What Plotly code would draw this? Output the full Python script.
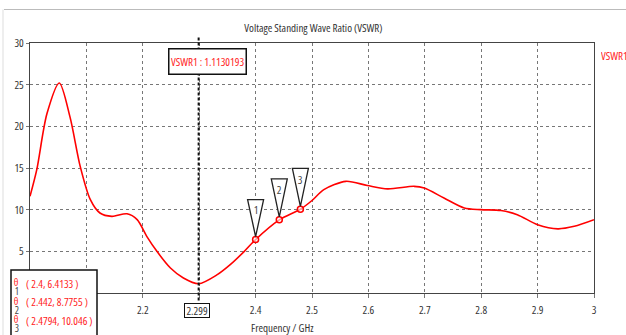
import plotly.graph_objects as go

# ---- data ----
freq = [2.000, 2.012, 2.030, 2.052, 2.071, 2.089, 2.107, 2.124, 2.145, 2.172,
        2.190, 2.207, 2.225, 2.249, 2.272, 2.299, 2.332, 2.355, 2.380, 2.400,
        2.442, 2.4794, 2.500, 2.521, 2.560, 2.598, 2.634, 2.681, 2.699, 2.734,
        2.770, 2.799, 2.835, 2.864, 2.900, 2.936, 2.965, 3.000]
vswr = [11.6, 14.8, 21.5, 25.2, 21.1, 15.2, 11.2, 9.6, 9.2, 9.5,
        8.8, 6.8, 5.0, 3.0, 1.8, 1.113, 2.2, 3.4, 5.0, 6.4133,
        8.7755, 10.046, 11.1, 12.4, 13.4, 12.9, 12.5, 12.8, 12.6, 11.4,
        10.2, 10.0, 9.9, 9.4, 8.2, 7.7, 8.0, 8.8]

marker_f = [2.4, 2.442, 2.4794]
marker_v = [6.4133, 8.7755, 10.046]
marker_lbl = ["1", "2", "3"]
marker_txt = ["( 2.4, 6.4133 )", "( 2.442, 8.7755 )", "( 2.4794, 10.046 )"]

cursor_f = 2.299
cursor_v = 1.1130193

x_grid = [2.1, 2.2, 2.3, 2.4, 2.5, 2.6, 2.7, 2.8, 2.9, 3.0]
x_text = ["", "2.2", "", "2.4", "2.5", "2.6", "2.7", "2.8", "2.9", "3"]
y_grid = [0, 5, 10, 15, 20, 25, 30]
y_text = ["", "5", "10", "15", "20", "25", "30"]

FONT = "Open Sans, Noto Sans, Liberation Sans, sans-serif"
RED = "#f22"
W, H = 626, 335
L, R, T, B = 30, 32, 43, 42
PW, PH = W - L - R, H - T - B


def px(x):
    return (x - L) / PW


def py(y):
    return (H - B - y) / PH


fig = go.Figure()
fig.add_trace(go.Scatter(x=freq, y=vswr, mode="lines",
                         line=dict(color="#ff0000", width=1.6, shape="spline", smoothing=0.8),
                         hoverinfo="skip", showlegend=False))
fig.add_trace(go.Scatter(x=marker_f, y=marker_v, mode="markers",
                         marker=dict(symbol="circle", size=6, color="rgba(255,255,255,0.6)",
                                     line=dict(color="#ff0000", width=1.5)),
                         showlegend=False))

shapes = []
shapes.append(dict(type="line", xref="paper", yref="paper", x0=px(4), x1=px(626), y0=py(9.5), y1=py(9.5),
                   line=dict(color="#bbb", width=1)))
shapes.append(dict(type="line", xref="paper", yref="paper", x0=px(3), x1=px(3), y0=py(9.5), y1=py(335),
                   line=dict(color="#ddd", width=1)))
shapes.append(dict(type="line", xref="x", yref="paper", x0=cursor_f, x1=cursor_f, y0=-0.03, y1=1.025,
                   line=dict(color="#111", width=2, dash="3px,2px")))
heights = [37, 38, 38]
for f, v, h in zip(marker_f, marker_v, heights):
    shapes.append(dict(type="path", xref="x", yref="y", xsizemode="pixel", ysizemode="pixel",
                       xanchor=f, yanchor=v,
                       path=f"M -8,{h+3} L 8,{h+3} L 0,3 Z",
                       fillcolor="white", line=dict(color="#222", width=1.3)))
shapes.append(dict(type="rect", xref="paper", yref="paper", x0=px(11), x1=px(97), y0=py(345), y1=py(270),
                   fillcolor="white", line=dict(color="#111", width=1.5)))


def note(text, x, y, size=11, color="#333", **kw):
    d = dict(text=text, xref="paper", yref="paper", x=x, y=y, showarrow=False,
             xanchor="center", yanchor="middle", font=dict(family=FONT, size=size, color=color))
    d.update(kw)
    return d


ann = []
ann.append(note("Voltage Standing Wave Ratio (VSWR)", px(313), py(28)))
ann.append(note("VSWR1", px(599), py(55), color=RED, xanchor="left", align="left", width=40))
ann.append(note("Frequency / GHz", px(282), py(327)))
ann.append(note(f"VSWR1 : {cursor_v}", px(207.5), py(62), color=RED,
                bgcolor="white", bordercolor="#111", borderwidth=1.5, width=74, height=22, borderpad=1))
ann.append(dict(text=f"{cursor_f}", xref="x", yref="paper", x=cursor_f, y=py(310),
                xanchor="center", yanchor="middle",
                showarrow=False, font=dict(family=FONT, size=11, color="#333"), xshift=-2,
                bgcolor="white", bordercolor="#111", borderwidth=1, width=22, height=11, borderpad=1))
for f, v, lbl in zip(marker_f, marker_v, marker_lbl):
    ann.append(dict(text=lbl, xref="x", yref="y", x=f, y=v, yshift=30, showarrow=False,
                    xanchor="center", yanchor="middle",
                    font=dict(family=FONT, size=11, color="#444")))
rows = [283.3, 301.7, 320]
for r, txt, lbl in zip(rows, marker_txt, marker_lbl):
    ann.append(note(txt, px(25), py(r), color=RED, xanchor="left", align="left", width=72, borderpad=0))
    ann.append(note("θ", px(15.5), py(r - 1), size=10, color=RED))
    ann.append(note(lbl, px(16.5), py(r + 8), size=10, color="#444"))

fig.update_layout(
    width=W, height=H, margin=dict(l=L, r=R, t=T, b=B),
    paper_bgcolor="white", plot_bgcolor="white",
    shapes=shapes, annotations=ann, showlegend=False,
    xaxis=dict(range=[2.0, 3.0], tickvals=x_grid, ticktext=x_text, showgrid=True,
               gridcolor="#777", griddash="dot", gridwidth=1,
               ticks="outside", ticklen=4, tickcolor="#777", ticklabelstandoff=3,
               showline=True, linecolor="#444", linewidth=1, mirror=True, zeroline=False,
               tickfont=dict(family=FONT, size=11, color="#333")),
    yaxis=dict(range=[0, 30], tickvals=y_grid, ticktext=y_text, showgrid=True,
               gridcolor="#777", griddash="dot", gridwidth=1,
               ticks="outside", ticklen=3, tickcolor="#777",
               showline=True, linecolor="#444", linewidth=1, mirror=True, zeroline=False,
               tickfont=dict(family=FONT, size=11, color="#333")),
)

post = """
var s=document.createElement('style');
s.innerHTML='html,body{margin:0;padding:0;overflow:hidden} svg text{font-stretch:75% !important}';
document.head.appendChild(s);
"""
fig.write_html("out.html", post_script=post, config={"displayModeBar": False})
